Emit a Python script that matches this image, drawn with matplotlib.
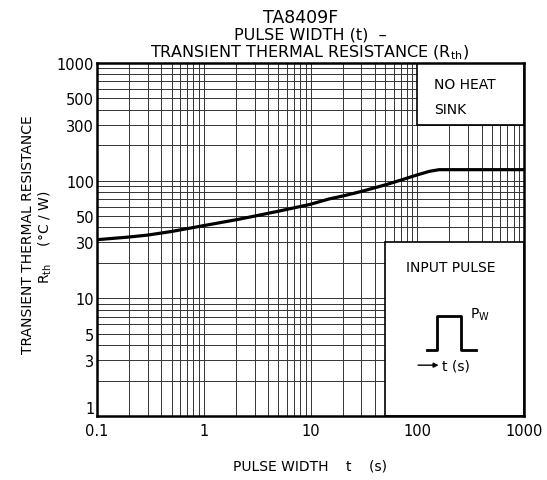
import matplotlib
matplotlib.use("Agg")
import matplotlib.pyplot as plt
from matplotlib.patches import Rectangle

# pulse width t (s) vs transient thermal resistance Rth (degC/W)
pulse_width = [0.1, 0.2, 0.3, 0.5, 1, 2, 3, 5, 10, 15, 20, 30, 50, 70, 100, 130, 160, 200, 500, 1000]
rth = [31.5, 33.2, 34.5, 37.0, 41.5, 46.5, 50.0, 55.0, 63.0, 70.0, 74.0, 81.0, 92.0, 101.0, 112.0, 120.0, 124.0, 124.0, 124.0, 124.0]

x_ticks = [0.1, 1, 10, 100, 1000]
x_tick_labels = ["0.1", "1", "10", "100", "1000"]
y_ticks = [1, 3, 5, 10, 30, 50, 100, 300, 500, 1000]
y_tick_labels = ["1", "3", "5", "10", "30", "50", "100", "300", "500", "1000"]

# blanked regions of the grid (x0, x1, y0, y1) in data units
no_heat_box = (100, 1000, 300, 1000)
input_pulse_box = (50, 1000, 1, 30)

# little pulse sketch inside the INPUT PULSE box, axes fraction
pulse_x = [0.773, 0.796, 0.796, 0.852, 0.852, 0.888]
pulse_y = [0.187, 0.187, 0.283, 0.283, 0.187, 0.187]

plt.rcParams["font.family"] = ["DejaVu Sans"]

fig = plt.figure(figsize=(5.47, 4.81), dpi=100)
ax = fig.add_axes([97 / 547, 1 - 417 / 481, 427 / 547, 353 / 481])

ax.set_xscale("log")
ax.set_yscale("log")
ax.set_xlim(0.1, 1000)
ax.set_ylim(1, 1000)

ax.set_axisbelow(True)
ax.grid(which="both", color="#333333", linewidth=0.7)

ax.set_xticks(x_ticks)
ax.set_xticklabels(x_tick_labels)
ax.set_yticks(y_ticks)
ax.set_yticklabels(y_tick_labels)
ax.tick_params(which="both", length=0, labelsize=10.5)
ax.tick_params(axis="y", pad=2)
ax.tick_params(axis="x", pad=5)
ax.yaxis.set_minor_formatter(plt.NullFormatter())
ax.xaxis.set_minor_formatter(plt.NullFormatter())
# the bottom "1" sits a little above its gridline, clear of "0.1"
ax.get_yticklabels()[0].set_va("bottom")

for spine in ax.spines.values():
    spine.set_linewidth(1.8)

for x0, x1, y0, y1 in [no_heat_box, input_pulse_box]:
    ax.add_patch(Rectangle((x0, y0), x1 - x0, y1 - y0, facecolor="white",
                           edgecolor="black", linewidth=1.2, zorder=1.5))

ax.plot(pulse_width, rth, color="black", linewidth=2.3, zorder=3,
        solid_capstyle="butt")

# box texts
ax.text(0.79, 0.94, "NO HEAT", transform=ax.transAxes, fontsize=10,
        ha="left", va="center", zorder=4)
ax.text(0.79, 0.87, "SINK", transform=ax.transAxes, fontsize=10,
        ha="left", va="center", zorder=4)
ax.text(0.829, 0.422, "INPUT PULSE", transform=ax.transAxes, fontsize=10,
        ha="center", va="center", zorder=4)
ax.plot(pulse_x, pulse_y, transform=ax.transAxes, color="black",
        linewidth=2.0, zorder=4, clip_on=False)
ax.text(0.874, 0.29, r"P$_\mathregular{W}$", transform=ax.transAxes,
        fontsize=10, ha="left", va="center", zorder=4)
ax.annotate("", xy=(0.8, 0.144), xytext=(0.752, 0.144),
            xycoords="axes fraction",
            arrowprops=dict(arrowstyle="-|>", color="black", lw=1.0,
                            mutation_scale=7, shrinkA=0, shrinkB=0),
            zorder=4)
ax.text(0.808, 0.144, "t (s)", transform=ax.transAxes, fontsize=10,
        ha="left", va="center", zorder=4)

# titles and axis labels
fig.text(263 / 547, 1 - 23 / 481, "TA8409F", fontsize=12.5,
         ha="left", va="baseline")
fig.text(310 / 547, 1 - 40 / 481, "PULSE WIDTH (t)  \u2013", fontsize=11.5,
         ha="center", va="baseline")
fig.text(310 / 547, 1 - 57 / 481,
         r"TRANSIENT THERMAL RESISTANCE (R$_\mathregular{th}$)",
         fontsize=11.5, ha="center", va="baseline")

fig.text(310 / 547, 1 - 466 / 481, "PULSE WIDTH    t    (s)", fontsize=10,
         ha="center", va="center")
fig.text(28 / 547, 1 - 235 / 481, "TRANSIENT THERMAL RESISTANCE",
         fontsize=10, rotation=90, ha="center", va="center")
fig.text(45 / 547, 1 - 237 / 481, r"R$_\mathregular{th}$    (°C / W)",
         fontsize=10, rotation=90, ha="center", va="center")

fig.savefig("out.png", dpi=100)
